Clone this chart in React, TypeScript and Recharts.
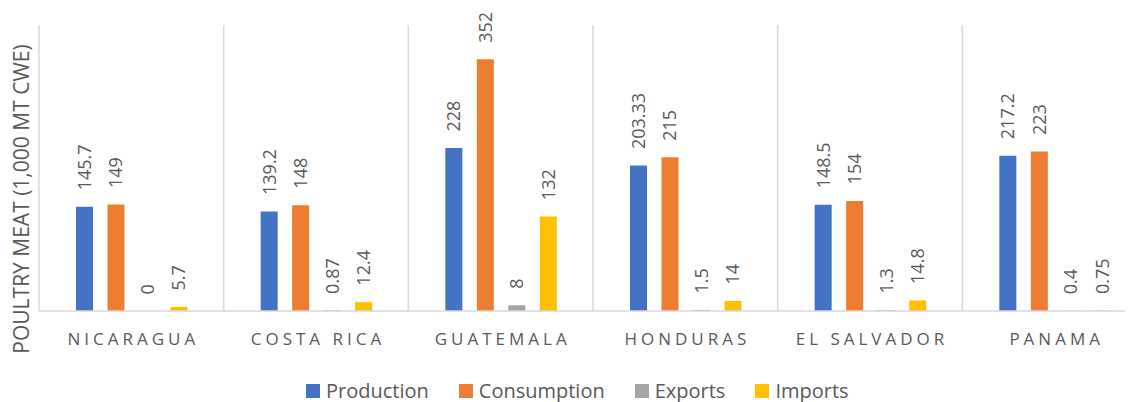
import React from 'react';
import { BarChart, Bar, XAxis, YAxis, CartesianGrid, LabelList } from 'recharts';

const countries = ['NICARAGUA', 'COSTA RICA', 'GUATEMALA', 'HONDURAS', 'EL SALVADOR', 'PANAMA'];
const production = [145.7, 139.2, 228, 203.33, 148.5, 217.2];
const consumption = [149, 148, 352, 215, 154, 223];
const exportsData = [0, 0.87, 8, 1.5, 1.3, 0.4];
const importsData = [5.7, 12.4, 132, 14, 14.8, 0.75];
const seriesNames = ['Production', 'Consumption', 'Exports', 'Imports'];
const seriesKeys = ['production', 'consumption', 'exports', 'imports'];
const seriesColors = ['#4472C4', '#ED7D31', '#A5A5A5', '#FFC000'];
const yDomain = [0, 400];
const boundaries = [0, 1, 2, 3, 4, 5, 6];
const yTitle = 'POULTRY MEAT (1,000 MT CWE)';

const data = countries.map((c, i) => ({
  country: c,
  production: production[i],
  consumption: consumption[i],
  exports: exportsData[i],
  imports: importsData[i],
}));

const FONT = '"Open Sans", sans-serif';
const TEXT = '#595959';
const GRID = '#D9D9D9';

const renderValue = (props: any) => {
  const { x, y, width, value } = props;
  const cx = Number(x) + Number(width) / 2 + 6.5;
  const ty = Number(y) - 16.5;
  return (
    <text
      x={cx}
      y={ty}
      transform={`rotate(-90 ${cx} ${ty})`}
      fill={TEXT}
      fontSize={18}
      fontFamily={FONT}
      textAnchor="start"
    >
      {String(value)}
    </text>
  );
};

const CatTick = (props: any) => {
  const { x, y, payload } = props;
  return (
    <text
      x={Number(x) + 2}
      y={Number(y) + 34}
      textAnchor="middle"
      fill={TEXT}
      fontSize={17}
      fontFamily={FONT}
      letterSpacing={4}
    >
      {payload.value}
    </text>
  );
};

const renderTitle = (props: any) => {
  const vb = props.viewBox || { x: 0, y: 25, width: 39, height: 286 };
  const tx = vb.x + 29;
  const ty = vb.y + vb.height / 2 + 31;
  return (
    <text
      x={tx}
      y={ty}
      transform={`rotate(-90 ${tx} ${ty})`}
      textAnchor="middle"
      fill={TEXT}
      fontSize={21}
      fontFamily={FONT}
    >
      {yTitle}
    </text>
  );
};

const gridXs = ({ offset }: any) =>
  boundaries.map((b) => offset.left + (b * offset.width) / countries.length);

export default function App() {
  return (
    <div
      style={{
        marginLeft: -8,
        marginTop: -8,
        width: 1133,
        height: 402,
        position: 'relative',
        background: '#fff',
        fontFamily: FONT,
      }}
    >
      <BarChart
        width={1133}
        height={402}
        data={data}
        margin={{ top: 25, right: -14, bottom: 61, left: 0 }}
        barSize={17}
        barGap={14.5}
      >
        <CartesianGrid
          horizontal={false}
          vertical
          stroke={GRID}
          strokeWidth={1.5}
          verticalCoordinatesGenerator={gridXs}
        />
        <XAxis
          dataKey="country"
          axisLine={{ stroke: GRID, strokeWidth: 1.5 }}
          tickLine={false}
          tickSize={0}
          tickMargin={0}
          interval={0}
          tick={<CatTick />}
        />
        <YAxis
          domain={yDomain}
          width={39}
          tick={false}
          axisLine={false}
          tickLine={false}
          label={renderTitle}
        />
        {seriesKeys.map((k, i) => (
          <Bar
            key={k}
            dataKey={k}
            name={seriesNames[i]}
            fill={seriesColors[i]}
            minPointSize={0.01}
            isAnimationActive={false}
          >
            <LabelList dataKey={k} content={renderValue} />
          </Bar>
        ))}
      </BarChart>
      <div
        style={{
          position: 'absolute',
          left: 306,
          top: 375,
          display: 'flex',
          alignItems: 'center',
          whiteSpace: 'nowrap',
          height: 32,
        }}
      >
        {seriesNames.map((n, i) => (
          <React.Fragment key={n}>
            <span
              style={{
                display: 'inline-block',
                width: 14,
                height: 14,
                background: seriesColors[i],
                marginLeft: i === 0 ? 0 : 30,
                marginRight: 6,
              }}
            />
            <span style={{ fontFamily: FONT, fontSize: 20, color: TEXT, lineHeight: '32px' }}>{n}</span>
          </React.Fragment>
        ))}
      </div>
    </div>
  );
}
